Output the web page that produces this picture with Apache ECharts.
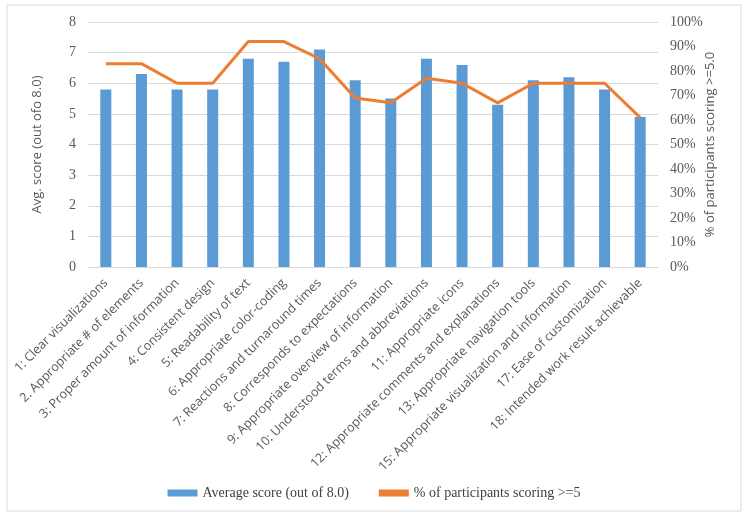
<!DOCTYPE html>
<html><head><meta charset="utf-8">
<script src="https://cdn.jsdelivr.net/npm/echarts@6/dist/echarts.min.js"></script>
<style>html,body{margin:0;padding:0;background:#fff}#c{width:748px;height:518px}</style>
</head><body><div id="c"></div>
<script>
const categories = ["1: Clear visualizations","2. Appropriate # of elements","3: Proper amount of information","4: Consistent design","5: Readability of text","6: Appropriate color-coding","7: Reactions and turnaround times","8: Corresponds to expectations","9: Appropriate overview of information","10: Understood terms and abbreviations","11: Appropriate icons","12: Appropriate comments and explanations","13: Appropriate navigation tools","15: Appropriate visualization and information","17: Ease of customization","18: Intended work result achievable"];
const avgScore = [5.8,6.3,5.8,5.8,6.8,6.7,7.1,6.1,5.5,6.8,6.6,5.3,6.1,6.2,5.8,4.9];
const pctScoring = [83,83,75,75,92,92,85,69,67,77,75,67,75,75,75,61];
const leftTicks = [0,1,2,3,4,5,6,7,8];
const rightTicks = [0,10,20,30,40,50,60,70,80,90,100];

const chart = echarts.init(document.getElementById('c'));
const serif = "'Liberation Serif', 'DejaVu Serif', serif";
const sans = "'Open Sans', 'Noto Sans', sans-serif";
chart.setOption({
  animation:false,
  graphic:[{type:'rect',shape:{x:7,y:5,width:734,height:506},style:{fill:'none',stroke:'#D9D9D9',lineWidth:1},silent:true}],
  grid:{left:88,right:90,top:22,bottom:251},
  legend:{bottom:13,left:'center',itemGap:30,itemWidth:30,itemHeight:7,
    textStyle:{fontFamily:serif,fontSize:14,color:'#404040'},
    data:[{name:'Average score (out of 8.0)',icon:'rect'},{name:'% of participants scoring >=5',icon:'rect'}]},
  xAxis:{type:'category',data:categories,
    axisLine:{lineStyle:{color:'#D9D9D9'}},axisTick:{show:false},
    axisLabel:{rotate:45,interval:0,margin:14,fontFamily:sans,fontSize:12.6,color:'#595959'}},
  yAxis:[{type:'value',min:0,max:8,interval:1,name:'Avg. score (out ofo 8.0)',nameLocation:'middle',nameGap:44,nameMoveOverlap:false,
    nameTextStyle:{fontFamily:sans,fontSize:13,color:'#595959'},
    axisLabel:{fontFamily:serif,fontSize:14,color:'#595959',margin:12,formatter:v=>leftTicks.includes(v)?String(v):''},
    splitLine:{lineStyle:{color:'#D9D9D9'}},axisLine:{show:false},axisTick:{show:false}},
   {type:'value',min:0,max:100,interval:10,name:'% of participants scoring >=5.0',nameLocation:'middle',nameGap:46,nameRotate:90,nameMoveOverlap:false,
    nameTextStyle:{fontFamily:sans,fontSize:13,color:'#595959'},
    axisLabel:{fontFamily:serif,fontSize:14,color:'#595959',margin:12,formatter:v=>rightTicks.includes(v)?v+'%':''},
    splitLine:{show:false},axisLine:{show:false},axisTick:{show:false}}],
  series:[{name:'Average score (out of 8.0)',type:'bar',data:avgScore,barWidth:11,itemStyle:{color:'#5B9BD5'}},
    {name:'% of participants scoring >=5',type:'line',yAxisIndex:1,data:pctScoring,symbol:'none',
     lineStyle:{color:'#ED7D31',width:3},itemStyle:{color:'#ED7D31'}}]
});
</script></body></html>
